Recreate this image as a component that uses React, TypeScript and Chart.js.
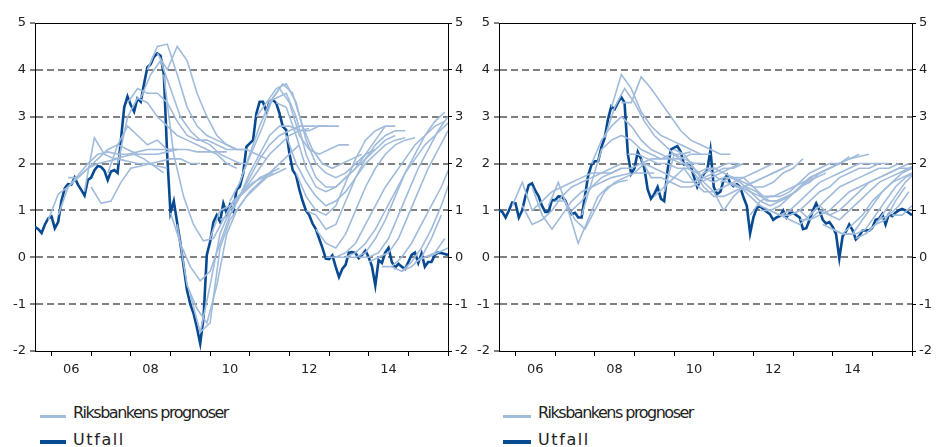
import React, { useEffect, useRef } from 'react';
import { Chart, registerables } from 'chart.js';

Chart.register(...registerables);

// ---------- data ----------
const X_MIN = 2005 + 7 / 12; // Aug 2005
const X_MAX = 2016;
const OUTCOME_START = 2005 + 7 / 12;
const YEAR_TICKS = [2006, 2007, 2008, 2009, 2010, 2011, 2012, 2013, 2014, 2015, 2016];
const YEAR_LABELS = ['06', '', '08', '', '10', '', '12', '', '14', '', ''];
const Y_MIN = -2;
const Y_MAX = 5;
const LEGEND_LABELS = ['Riksbankens prognoser', 'Utfall'];

// Left panel: monthly outcome from Aug 2005
const kpiOutcome = [
  0.65, 0.6, 0.52, 0.7, 0.83, 0.87, 0.62, 0.75, 1.2, 1.47, 1.56, 1.55,
  1.7, 1.55, 1.44, 1.32, 1.65, 1.7, 1.86, 1.95, 1.93, 1.85, 1.65, 1.83,
  1.86, 1.8, 2.5, 3.2, 3.43, 3.25, 3.11, 3.39, 3.32, 3.7, 4.05, 4.12,
  4.28, 4.35, 4.3, 3.9, 2.2, 0.95, 1.2, 0.75, 0.3, -0.2, -0.7, -1.0,
  -1.2, -1.5, -1.84, -1.3, 0.05, 0.33, 0.75, 0.9, 0.76, 1.15, 0.94, 1.12,
  0.98, 1.44, 1.51, 1.79, 2.36, 2.43, 2.5, 3.07, 3.32, 3.32, 3.11, 3.32,
  3.36, 3.29, 3.07, 2.79, 2.72, 2.22, 1.86, 1.75, 1.45, 1.2, 1.0, 0.9,
  0.72, 0.6, 0.4, 0.2, -0.03, -0.04, 0.04, -0.2, -0.42, -0.25, -0.16, 0.1,
  0.11, 0.09, -0.02, 0.05, 0.14, 0.0, -0.2, -0.6, -0.06, -0.12, 0.1, 0.2,
  -0.1, -0.22, -0.14, -0.2, -0.25, -0.1, 0.05, 0.1, -0.12, 0.08, -0.2, -0.1,
  -0.1, 0.05, 0.1, 0.09, 0.07, 0.05,
];

// Left panel forecasts: start (decimal year) and quarterly values
const kpiForecastStarts = [
  2005.92, 2006.17, 2006.42, 2006.83, 2007.0, 2007.42, 2007.67, 2007.92, 2008.25, 2008.42,
  2008.67, 2008.83, 2009.0, 2009.17, 2009.5, 2009.75, 2010.0, 2010.25, 2010.5, 2010.83,
  2011.17, 2011.42, 2011.67, 2011.92, 2012.17, 2012.42, 2012.67, 2012.92, 2013.17, 2013.42,
  2013.75, 2014.0, 2014.33, 2014.58, 2014.83, 2015.17, 2015.5,
];
const kpiForecasts = [
  [0.8, 1.35, 1.5, 1.7, 1.9, 2.0, 2.05, 2.1, 2.05, 2.0, 2.0, 1.95, 1.9],
  [0.9, 1.5, 1.75, 2.0, 2.2, 2.25, 2.2, 2.2, 2.25, 2.3, 2.3, 2.3, 2.3],
  [1.7, 1.7, 1.9, 2.1, 2.3, 2.4, 2.3, 2.2, 2.2, 2.2, 2.25, 2.3],
  [1.4, 2.55, 2.2, 2.1, 2.15, 2.2, 2.1, 1.95, 1.8],
  [1.5, 1.15, 1.2, 1.6, 1.9, 1.95, 2.0, 2.05, 2.1, 2.1, 2.0, 2.0],
  [1.8, 2.4, 2.8, 2.6, 2.4, 2.5, 2.3, 2.3, 2.3, 2.25, 2.25, 2.25, 2.25],
  [2.0, 3.0, 3.4, 3.3, 3.0, 2.8, 2.6, 2.5, 2.4, 2.3, 2.2, 2.0, 1.9],
  [3.3, 3.6, 3.5, 3.5, 3.3, 2.9, 2.6, 2.5, 2.5, 2.4, 2.3, 2.3],
  [3.4, 3.9, 4.2, 3.6, 3.0, 2.7, 2.5, 2.4, 2.2, 2.1, 2.0, 2.0],
  [4.0, 4.5, 4.55, 3.9, 3.2, 2.8, 2.6, 2.5, 2.4, 2.3, 2.3],
  [4.35, 4.0, 4.5, 4.2, 3.5, 3.0, 2.6, 2.4, 2.3, 2.3, 2.2, 2.1],
  [3.9, 2.2, 1.3, 0.7, 0.35, 0.4, 0.8, 1.2, 1.4, 1.6, 1.7, 1.8],
  [0.95, 0.3, -0.2, -0.5, -0.3, 0.3, 0.9, 1.3, 1.5, 1.7, 1.8, 1.9],
  [0.7, -0.6, -1.1, -1.4, -0.6, 0.5, 1.0, 1.3, 1.5, 1.7, 1.8, 1.9],
  [-0.8, -1.6, -1.4, 0.2, 0.8, 1.1, 1.4, 1.6, 1.8, 2.0, 2.2, 2.4],
  [-1.6, -0.6, 0.5, 1.0, 1.3, 1.6, 1.9, 2.2, 2.4, 2.6, 2.7, 2.75],
  [0.4, 1.0, 1.1, 1.3, 1.7, 2.1, 2.4, 2.6, 2.7, 2.8, 2.8, 2.8, 2.8],
  [0.8, 0.9, 1.3, 1.8, 2.2, 2.6, 2.8, 2.8, 2.7, 2.7, 2.8, 2.8, 2.8],
  [1.2, 1.6, 2.2, 2.8, 3.3, 3.6, 3.3, 2.6, 2.3, 2.2, 2.3, 2.4, 2.4],
  [1.8, 2.3, 2.8, 3.4, 3.7, 3.5, 2.8, 2.3, 2.0, 1.9, 2.0, 2.1, 2.2],
  [3.0, 3.3, 3.6, 3.7, 3.3, 2.5, 2.0, 1.8, 1.7, 1.8, 2.0, 2.2, 2.3],
  [3.3, 3.4, 3.5, 3.0, 2.2, 1.7, 1.5, 1.5, 1.7, 1.9, 2.2, 2.5, 2.8],
  [3.3, 3.2, 2.6, 1.9, 1.5, 1.4, 1.5, 1.7, 1.9, 2.1, 2.3, 2.5, 2.6],
  [2.6, 2.0, 1.6, 1.3, 1.1, 1.2, 1.4, 1.7, 2.0, 2.2, 2.4, 2.5, 2.55],
  [1.8, 1.3, 1.0, 0.9, 1.1, 1.6, 2.1, 2.5, 2.7, 2.8, 2.8],
  [1.0, 0.9, 0.6, 0.7, 1.2, 1.7, 2.1, 2.4, 2.6, 2.7, 2.7],
  [0.6, 0.3, 0.2, 0.5, 1.0, 1.5, 1.9, 2.2, 2.4, 2.5, 2.55],
  [0.0, 0.0, 0.1, 0.3, 0.7, 1.1, 1.5, 1.8, 2.1, 2.4, 2.6, 2.8, 2.9],
  [0.0, 0.0, 0.1, 0.3, 0.6, 1.0, 1.4, 1.8, 2.1, 2.4, 2.6, 2.8, 3.0],
  [0.0, 0.0, 0.1, 0.4, 0.8, 1.3, 1.8, 2.2, 2.6, 2.9, 3.1],
  [0.0, 0.0, 0.1, 0.4, 0.9, 1.4, 1.9, 2.3, 2.7, 3.0],
  [-0.1, 0.0, 0.1, 0.4, 0.9, 1.4, 1.9, 2.3, 2.7],
  [-0.2, -0.2, 0.0, 0.3, 0.7, 1.1, 1.5, 2.0],
  [-0.2, -0.3, -0.1, 0.2, 0.6, 1.1, 1.7],
  [-0.3, -0.2, 0.0, 0.4, 0.9],
  [-0.1, 0.0, 0.1, 0.4],
  [0.0, 0.1, 0.2],
];

// Right panel: monthly outcome from Aug 2005
const kpifOutcome = [
  1.01, 0.97, 0.85, 1.0, 1.17, 1.15, 0.85, 1.0, 1.3, 1.54, 1.58, 1.42,
  1.3, 1.1, 0.97, 0.97, 1.22, 1.22, 1.3, 1.29, 1.22, 1.05, 0.92, 0.95,
  0.85, 0.85, 1.3, 1.75, 1.97, 2.05, 2.05, 2.35, 2.55, 2.95, 3.22, 3.16,
  3.3, 3.42, 3.3, 2.2, 1.78, 1.9, 2.25, 2.1, 1.9, 1.45, 1.25, 1.35,
  1.5, 1.25, 1.2, 1.85, 2.3, 2.34, 2.37, 2.25, 1.98, 2.0, 1.95, 1.72,
  1.5, 1.65, 1.78, 1.85, 2.29, 1.5, 1.35, 1.4, 1.65, 1.75, 1.58, 1.52,
  1.56, 1.5, 1.28, 1.1, 0.51, 0.85, 1.05, 1.09, 1.03, 0.97, 0.92, 0.8,
  0.85, 0.88, 1.0, 0.85, 0.95, 0.95, 0.9, 0.85, 0.6, 0.62, 0.8, 1.0,
  1.15, 1.0, 0.8, 0.72, 0.75, 0.65, 0.5, -0.02, 0.45, 0.55, 0.7, 0.58,
  0.38, 0.45, 0.57, 0.58, 0.57, 0.63, 0.8, 0.82, 0.92, 0.7, 0.92, 0.88,
  0.95, 1.0, 1.03, 1.0, 0.95, 0.9,
];

const kpifForecastStarts = [
  2005.92, 2006.17, 2006.42, 2006.83, 2007.0, 2007.42, 2007.67, 2007.92, 2008.25, 2008.42,
  2008.67, 2008.83, 2009.0, 2009.17, 2009.5, 2009.75, 2010.0, 2010.25, 2010.5, 2010.83,
  2011.17, 2011.42, 2011.67, 2011.92, 2012.17, 2012.42, 2012.67, 2012.92, 2013.17, 2013.42,
  2013.75, 2014.0, 2014.33, 2014.58, 2014.83, 2015.17, 2015.5,
];
const kpifForecasts = [
  [1.1, 1.6, 1.0, 1.2, 1.4, 1.5, 1.6, 1.7, 1.8, 1.8, 1.9, 2.0],
  [1.1, 0.7, 0.8, 1.0, 1.3, 1.5, 1.6, 1.7, 1.8, 1.8, 1.9],
  [1.5, 0.9, 0.6, 0.9, 1.2, 1.4, 1.5, 1.6, 1.7, 1.75, 1.8],
  [1.1, 1.6, 1.0, 0.3, 0.8, 1.3, 1.5, 1.6, 1.65],
  [1.2, 1.2, 0.8, 0.6, 1.0, 1.4, 1.6, 1.7, 1.8, 1.8, 1.8],
  [1.0, 1.2, 1.5, 1.7, 1.8, 1.9, 1.9, 2.0, 2.1, 2.1, 2.2, 2.2, 2.25],
  [0.9, 1.6, 2.3, 2.5, 2.6, 2.5, 2.3, 2.2, 2.1, 2.1, 2.1, 2.2, 2.2],
  [2.0, 2.5, 2.8, 3.0, 2.8, 2.5, 2.3, 2.2, 2.1, 2.0, 2.0, 2.0],
  [2.55, 3.2, 3.6, 3.3, 2.9, 2.6, 2.4, 2.2, 2.1, 2.0, 2.0],
  [3.2, 3.9, 3.6, 3.1, 2.8, 2.6, 2.5, 2.4, 2.3, 2.2, 2.2],
  [3.3, 3.3, 3.85, 3.6, 3.3, 3.0, 2.7, 2.5, 2.4, 2.3, 2.2, 2.2],
  [2.2, 2.2, 2.1, 2.0, 2.0, 1.9, 1.9, 1.8, 1.9, 1.9, 2.0, 2.0],
  [1.8, 2.0, 1.9, 1.8, 1.7, 1.6, 1.6, 1.7, 1.8, 1.9, 1.9, 2.0],
  [2.1, 1.7, 1.7, 1.6, 1.5, 1.5, 1.6, 1.7, 1.8, 1.9, 2.0],
  [1.3, 1.5, 1.7, 1.9, 1.6, 1.4, 1.4, 1.5, 1.6, 1.7, 1.8, 1.9, 2.0],
  [1.4, 2.2, 2.0, 1.8, 1.5, 1.3, 1.3, 1.4, 1.5, 1.6, 1.7, 1.8, 1.9],
  [2.3, 2.2, 1.9, 1.6, 1.4, 1.0, 1.3, 1.5, 1.6, 1.7, 1.8, 1.9, 2.0],
  [2.0, 1.9, 1.7, 1.6, 1.7, 1.7, 1.6, 1.5, 1.5, 1.6, 1.8, 1.9, 2.1],
  [1.6, 1.8, 1.9, 1.8, 1.7, 1.7, 1.5, 1.3, 1.3, 1.4, 1.5, 1.6, 1.7],
  [1.9, 1.7, 1.6, 1.5, 1.5, 1.4, 1.2, 1.2, 1.3, 1.4, 1.6, 1.7, 1.8],
  [1.6, 1.7, 1.6, 1.4, 1.3, 1.2, 1.2, 1.3, 1.5, 1.6, 1.8, 1.9, 2.0],
  [1.6, 1.5, 1.4, 1.2, 1.1, 1.2, 1.3, 1.5, 1.7, 1.8, 1.9, 2.0, 2.15],
  [1.5, 1.3, 1.1, 1.0, 1.1, 1.3, 1.5, 1.7, 1.8, 1.9, 2.0, 2.1, 2.2],
  [0.9, 1.2, 1.3, 1.3, 1.4, 1.6, 1.8, 1.9, 2.0, 2.0, 2.1, 2.15, 2.2],
  [1.0, 1.0, 0.9, 1.0, 1.2, 1.4, 1.6, 1.7, 1.8, 1.9, 2.0, 2.0, 2.0],
  [1.0, 0.9, 0.9, 1.0, 1.2, 1.4, 1.5, 1.7, 1.8, 1.9, 1.9, 2.0, 2.0],
  [0.9, 0.8, 0.7, 0.9, 1.1, 1.3, 1.5, 1.6, 1.7, 1.8, 1.9, 1.9, 2.0],
  [0.9, 1.0, 0.8, 0.9, 1.0, 1.2, 1.4, 1.5, 1.6, 1.7, 1.8, 1.9, 2.0],
  [0.8, 0.8, 1.0, 0.9, 1.0, 1.2, 1.4, 1.6, 1.7, 1.8, 1.9, 1.9, 2.0],
  [0.9, 1.1, 0.9, 0.8, 1.0, 1.2, 1.4, 1.6, 1.7, 1.8, 1.9],
  [0.7, 0.6, 0.5, 0.7, 0.9, 1.2, 1.4, 1.6, 1.7, 1.8, 1.9],
  [0.6, 0.5, 0.5, 0.8, 1.1, 1.4, 1.6, 1.8, 1.9],
  [0.5, 0.5, 0.6, 0.9, 1.2, 1.5, 1.7, 1.8],
  [0.4, 0.5, 0.7, 1.0, 1.3, 1.6, 1.8],
  [0.5, 0.7, 0.8, 1.2, 1.5],
  [0.8, 0.9, 1.1, 1.4],
  [0.9, 0.9, 1.1],
];

// ---------- style ----------
const LIGHT = '#a0bbdb';
const DARK = '#074a92';
const GRID = '#808080';
const TEXT = '#222222';
const FONT = 'DejaVu Sans';

type PanelProps = {
  left: number;
  width: number;
  height: number;
  leftAxisW: number;
  rightAxisW: number;
  plotBottom: number;
  outcome: number[];
  starts: number[];
  forecasts: number[][];
};

function Panel(p: PanelProps) {
  const ref = useRef<HTMLCanvasElement | null>(null);
  useEffect(() => {
    if (!ref.current) return;
    const datasets: any[] = p.forecasts.map((vals, k) => ({
      label: LEGEND_LABELS[0],
      data: vals.map((v, i) => ({ x: p.starts[k] + i * 0.25, y: v })),
      borderColor: LIGHT,
      borderWidth: 1.6,
      pointRadius: 0,
      fill: false,
      tension: 0,
    }));
    datasets.push({
      label: LEGEND_LABELS[1],
      data: p.outcome.map((v, i) => ({ x: OUTCOME_START + i / 12, y: v })),
      borderColor: DARK,
      borderWidth: 2.6,
      pointRadius: 0,
      fill: false,
      tension: 0,
    });
    const tickFont = { family: FONT, size: 13 };
    const chart = new Chart(ref.current, {
      type: 'line',
      data: { datasets },
      options: {
        animation: false,
        responsive: false,
        maintainAspectRatio: false,
        layout: { padding: { top: 23, left: 0, right: 0, bottom: 0 } },
        plugins: { legend: { display: false }, tooltip: { enabled: false } },
        scales: {
          x: {
            type: 'linear',
            position: 'bottom',
            min: X_MIN,
            max: X_MAX,
            afterBuildTicks: (s: any) => {
              s.ticks = YEAR_TICKS.map((v) => ({ value: v }));
            },
            afterFit: (s: any) => {
              s.height = p.height - p.plotBottom;
            },
            grid: {
              display: true,
              drawOnChartArea: false,
              drawTicks: true,
              tickLength: 5,
              tickColor: '#000',
              tickWidth: 1,
            },
            border: { display: true, color: '#000', width: 1 },
            ticks: {
              autoSkip: false,
              maxRotation: 0,
              padding: 6,
              labelOffset: 19.8,
              color: TEXT,
              font: tickFont,
              callback: (_v: any, i: number) => YEAR_LABELS[i] ?? '',
            },
          },
          x2: {
            type: 'linear',
            position: 'top',
            min: X_MIN,
            max: X_MAX,
            grid: { display: false, drawTicks: false },
            ticks: { display: false },
            border: { display: true, color: '#000', width: 1 },
            afterFit: (s: any) => {
              s.height = 0;
            },
          },
          y: {
            position: 'left',
            min: Y_MIN,
            max: Y_MAX,
            ticks: { stepSize: 1, padding: 4, color: TEXT, font: tickFont },
            grid: {
              color: (c: any) =>
                c.tick && c.tick.value > Y_MIN && c.tick.value < Y_MAX ? GRID : 'rgba(0,0,0,0)',
              lineWidth: 2,
              tickColor: '#000',
              tickLength: 5,
              tickWidth: 1,
              tickBorderDash: [],
            },
            border: { display: true, color: '#000', width: 1, dash: [7, 4] },
            afterFit: (s: any) => {
              s.width = p.leftAxisW;
            },
          },
          y2: {
            position: 'right',
            min: Y_MIN,
            max: Y_MAX,
            ticks: { stepSize: 1, padding: 3, color: TEXT, font: tickFont },
            grid: {
              drawOnChartArea: false,
              tickColor: '#000',
              tickLength: 4,
              tickWidth: 1,
            },
            border: { display: true, color: '#000', width: 1 },
            afterFit: (s: any) => {
              s.width = p.rightAxisW;
            },
          },
        },
      } as any,
    });
    return () => chart.destroy();
  }, []);
  return (
    <canvas
      ref={ref}
      width={p.width}
      height={p.height}
      style={{ position: 'absolute', left: p.left, top: 0, width: p.width, height: p.height }}
    />
  );
}

function Legend({ left, lineW }: { left: number; lineW: number }) {
  const textStyle: React.CSSProperties = {
    position: 'absolute',
    fontFamily: FONT,
    fontSize: 16,
    lineHeight: '16px',
    color: TEXT,
    whiteSpace: 'nowrap',
  };
  return (
    <>
      <div style={{ position: 'absolute', left, top: 415, width: lineW, height: 2.5, background: LIGHT }} />
      <div style={{ ...textStyle, left: left + lineW + 7, top: 404.5, letterSpacing: '-1.5px' }}>
        {LEGEND_LABELS[0]}
      </div>
      <div style={{ position: 'absolute', left, top: 440, width: lineW, height: 3.5, background: DARK }} />
      <div style={{ ...textStyle, left: left + lineW + 7, top: 432, letterSpacing: '1.6px' }}>
        {LEGEND_LABELS[1]}
      </div>
    </>
  );
}

export default function App() {
  return (
    <div style={{ position: 'absolute', left: 0, top: 0, width: 939, height: 447, overflow: 'hidden', background: '#fff' }}>
      <Panel
        left={0}
        width={485}
        height={390}
        leftAxisW={35}
        rightAxisW={37}
        plotBottom={351}
        outcome={kpiOutcome}
        starts={kpiForecastStarts}
        forecasts={kpiForecasts}
      />
      <Panel
        left={464}
        width={475}
        height={390}
        leftAxisW={35}
        rightAxisW={27}
        plotBottom={351}
        outcome={kpifOutcome}
        starts={kpifForecastStarts}
        forecasts={kpifForecasts}
      />
      <Legend left={40} lineW={26} />
      <Legend left={503} lineW={28} />
    </div>
  );
}
